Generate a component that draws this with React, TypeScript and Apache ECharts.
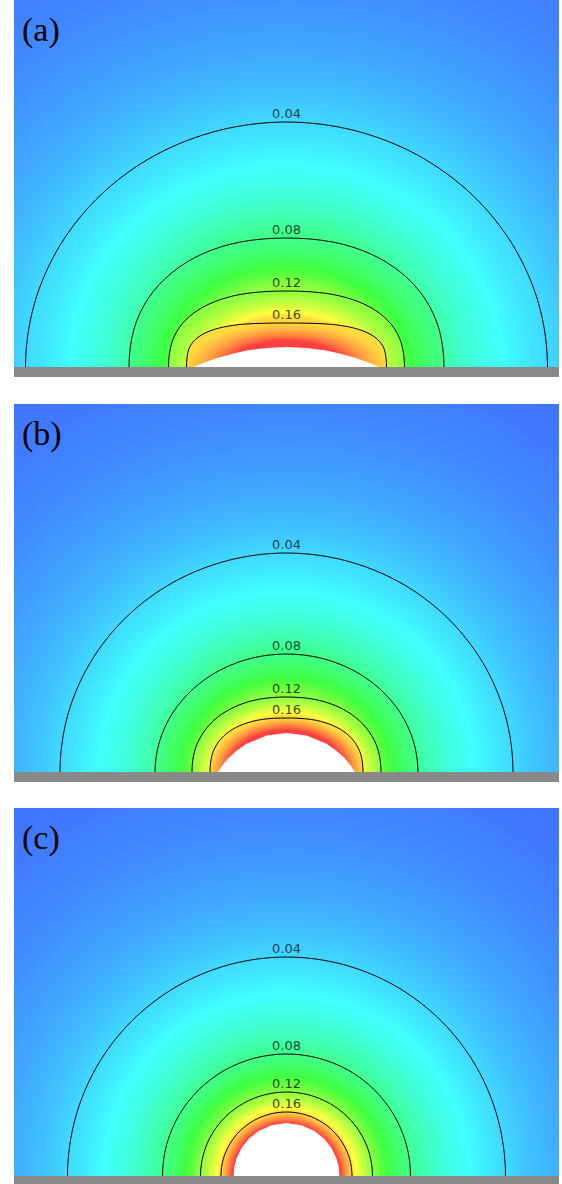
import React, { useEffect, useRef } from 'react';
import * as echarts from 'echarts';

// ---- data (units: px from axis centre, px above the wall) ----
const levelValues = [0.04, 0.08, 0.12, 0.16];
const levelLabels = ['0.04', '0.08', '0.12', '0.16'];
const holeValue = 0.2;
const panelLabels = ['(a)', '(b)', '(c)'];

// right-half contour points [dx, h], apex -> wall
const a004 = [[0, 245], [67.5, 236.6], [130.5, 212.2], [184.6, 173.2], [226, 122.5], [252.1, 63.4], [261, 0]];
const a008 = [[0, 129], [46.1, 125], [83.9, 113.2], [114.9, 94.1], [138.2, 68.7], [152.6, 37.7], [157.5, 0]];
const a012 = [[0, 76], [38.3, 73.8], [66.2, 67.4], [88.4, 56.9], [104.7, 42.7], [114.6, 24.6], [118, 0]];
const a016 = [[0, 44], [40.6, 43], [63, 40], [79.4, 34.9], [90.9, 27.7], [97.7, 17.9], [100, 0]];
const aHole = [[0, 20], [20, 19.1], [40, 16.4], [55, 13.1], [70, 8.8], [80, 5.2], [88, 2], [92.5, 0]];

const b004 = [[0, 219], [58.6, 211.5], [113.3, 189.7], [160.2, 154.9], [196.2, 109.5], [218.8, 56.7], [226.5, 0]];
const b008 = [[0, 118], [34, 114], [65.8, 102.2], [93, 83.4], [113.9, 59], [127, 30.5], [131.5, 0]];
const b012 = [[0, 75], [27.7, 72.7], [50.3, 65.8], [69, 54.7], [82.9, 39.9], [91.6, 21.9], [94.5, 0]];
const b016 = [[0, 54], [24.8, 52.5], [42.9, 47.9], [57.3, 40.5], [67.9, 30.3], [74.3, 17.5], [76.5, 0]];
const bHole = [[0, 39], [20, 36.4], [40, 28.2], [50, 21.3], [58, 13.9], [64, 6.8], [68.5, 0]];

const c004 = [[0, 219], [56.7, 211.5], [109.5, 189.7], [154.9, 154.9], [189.7, 109.5], [211.5, 56.7], [219, 0]];
const c008 = [[0, 122], [32.1, 117.8], [62, 105.7], [87.7, 86.3], [107.4, 61], [119.8, 31.6], [124, 0]];
const c012 = [[0, 84], [22.3, 81.1], [43, 72.7], [60.8, 59.4], [74.5, 42], [83.1, 21.7], [86, 0]];
const c016 = [[0, 64], [17, 61.8], [32.8, 55.4], [46.3, 45.3], [56.7, 32], [63.3, 16.6], [65.5, 0]];
const cHole = [[0, 53], [15, 50.8], [28, 45], [38, 37], [45, 28], [50, 17.6], [52, 10.2], [53, 0]];

const panelContours = [
  [a004, a008, a012, a016],
  [b004, b008, b012, b016],
  [c004, c008, c012, c016],
];
const panelHoles = [aHole, bHole, cHole];

// ---- layout ----
const PAGE_W = 562;
const PAGE_H = 1184;
const panelTops = [0, 404, 808];
const fieldHeights = [367, 368, 368];
const fieldLeft = 14;
const fieldWidth = 545;
const halfSpan = fieldWidth / 2;
const wallHeights = [10, 10, 8];

// ---- colour map (jet-like) ----
const cmapV = [0, 0.05, 0.1, 0.15, 0.2];
const cmapC = [
  [64, 64, 255],
  [64, 255, 255],
  [64, 255, 64],
  [255, 255, 64],
  [255, 64, 64],
];
function colorAt(v: number): string {
  if (v <= cmapV[0]) return `rgb(${cmapC[0].join(',')})`;
  for (let i = 1; i < cmapV.length; i++) {
    if (v <= cmapV[i]) {
      const t = (v - cmapV[i - 1]) / (cmapV[i] - cmapV[i - 1]);
      const c = cmapC[i - 1].map((x, k) => Math.round(x + (cmapC[i][k] - x) * t));
      return `rgb(${c.join(',')})`;
    }
  }
  return `rgb(${cmapC[cmapC.length - 1].join(',')})`;
}

function bandStops(vOut: number, vIn: number, tIn: number) {
  const A = ((vIn - vOut) * tIn) / (1 - tIn);
  const B = vOut - A;
  const vs: number[] = [];
  const N = 12;
  for (let i = 0; i <= N; i++) vs.push(vOut + ((vIn - vOut) * i) / N);
  cmapV.forEach((v) => {
    if (v > vOut && v < vIn) vs.push(v);
  });
  const stops = vs.map((v) => ({ offset: Math.min(1, Math.max(0, A / (v - B))), color: colorAt(v) }));
  stops.push({ offset: 0, color: colorAt(vIn) });
  stops.sort((p, q) => p.offset - q.offset);
  return stops;
}

const BG_K = 2.2;
function bgStops(vEdge: number) {
  const stops = [{ offset: 0, color: colorAt(vEdge) }];
  for (let rho = 1; rho <= BG_K + 1e-9; rho += 0.1) {
    stops.push({ offset: Math.min(1, rho / BG_K), color: colorAt(vEdge * Math.pow(rho, -1.5)) });
  }
  return stops;
}

function mirrorLoop(pts: number[][]) {
  const n = pts.length;
  const upperRight = pts;
  const lowerRight = pts.slice(0, n - 1).reverse().map(([x, y]) => [x, -y]);
  const lowerLeft = pts.slice(1).map(([x, y]) => [-x, -y]);
  const upperLeft = pts.slice(1, n - 1).reverse().map(([x, y]) => [-x, y]);
  return [...upperRight, ...lowerRight, ...lowerLeft, ...upperLeft];
}

const SIDE_WEIGHT = 0.3;

function makeRenderItem(p: number) {
  const contours = panelContours[p];
  const hole = panelHoles[p];
  return (params: any, api: any) => {
    const k = api.value(0);
    if (k === 0) {
      const outer = contours[0];
      const a0 = outer[outer.length - 1][0];
      const b0 = outer[0][1];
      const p1 = api.coord([-a0 * BG_K, b0 * BG_K]);
      const p2 = api.coord([a0 * BG_K, -b0 * BG_K]);
      return {
        type: 'rect',
        shape: { x: p1[0], y: p1[1], width: p2[0] - p1[0], height: p2[1] - p1[1] },
        style: { fill: { type: 'radial', x: 0.5, y: 0.5, r: 0.5, colorStops: bgStops(levelValues[0]) } },
      };
    }
    if (k >= 1 && k <= contours.length) {
      const i = k - 1;
      const outer = contours[i];
      const inner = i + 1 < contours.length ? contours[i + 1] : hole;
      const vIn = i + 1 < contours.length ? levelValues[i + 1] : holeValue;
      const aO = outer[outer.length - 1][0];
      const bO = outer[0][1];
      const aI = inner[inner.length - 1][0];
      const bI = inner[0][1];
      const tIn = SIDE_WEIGHT * (aI / aO) + (1 - SIDE_WEIGHT) * (bI / bO);
      const pts = mirrorLoop(outer).map((q) => api.coord(q));
      return {
        type: 'polygon',
        shape: { points: pts, smooth: 0.33 },
        style: {
          fill: { type: 'radial', x: 0.5, y: 0.5, r: 0.5, colorStops: bandStops(levelValues[i], vIn, tIn) },
          stroke: '#000',
          lineWidth: 1,
        },
      };
    }
    // hole
    const n = hole.length;
    const aH = hole[n - 1][0];
    const ring = [
      ...hole.slice(1).reverse().map(([x, y]) => [-x, y]),
      ...hole,
      [aH, -3],
      [-aH, -3],
    ];
    return {
      type: 'polygon',
      shape: { points: ring.map((q) => api.coord(q)) },
      style: { fill: '#ffffff' },
    };
  };
}

function buildOption() {
  const grid: any[] = [];
  const xAxis: any[] = [];
  const yAxis: any[] = [];
  const series: any[] = [];
  const graphic: any[] = [];
  panelTops.forEach((top, p) => {
    grid.push({ left: fieldLeft, top, width: fieldWidth, height: fieldHeights[p], show: false });
    xAxis.push({ type: 'value', gridIndex: p, min: -halfSpan, max: halfSpan, show: false });
    yAxis.push({ type: 'value', gridIndex: p, min: 0, max: fieldHeights[p], show: false });
    const layers = [];
    for (let k = 0; k <= panelContours[p].length + 1; k++) layers.push([k]);
    series.push({
      type: 'custom',
      xAxisIndex: p,
      yAxisIndex: p,
      clip: true,
      silent: true,
      z: 1,
      renderItem: makeRenderItem(p),
      data: layers,
    });
    series.push({
      type: 'scatter',
      xAxisIndex: p,
      yAxisIndex: p,
      silent: true,
      z: 3,
      symbolSize: 1,
      itemStyle: { color: 'transparent' },
      label: {
        show: true,
        position: 'top',
        distance: 2,
        formatter: (d: any) => d.value[2],
        color: '#111',
        fontSize: 13,
        fontFamily: 'DejaVu Sans',
      },
      data: panelContours[p].map((c, i) => [0, c[0][1], levelLabels[i]]),
    });
    graphic.push({
      type: 'rect',
      silent: true,
      shape: { x: fieldLeft, y: top + fieldHeights[p], width: fieldWidth, height: wallHeights[p] },
      style: { fill: '#898989' },
      z: 10,
    });
    graphic.push({
      type: 'text',
      silent: true,
      x: 22,
      y: top + 29,
      style: {
        text: panelLabels[p],
        font: '34px "Liberation Serif"',
        fill: '#000',
        textVerticalAlign: 'middle',
        verticalAlign: 'middle',
      },
      z: 10,
    });
  });
  return { animation: false, backgroundColor: '#ffffff', grid, xAxis, yAxis, series, graphic };
}

export default function App() {
  const ref = useRef<HTMLDivElement>(null);
  useEffect(() => {
    document.body.style.margin = '0';
    const chart = echarts.init(ref.current as HTMLDivElement, null, {
      renderer: 'svg',
      width: PAGE_W,
      height: PAGE_H,
    });
    chart.setOption(buildOption() as any);
    return () => chart.dispose();
  }, []);
  return <div ref={ref} style={{ width: PAGE_W, height: PAGE_H, background: '#fff' }} />;
}
